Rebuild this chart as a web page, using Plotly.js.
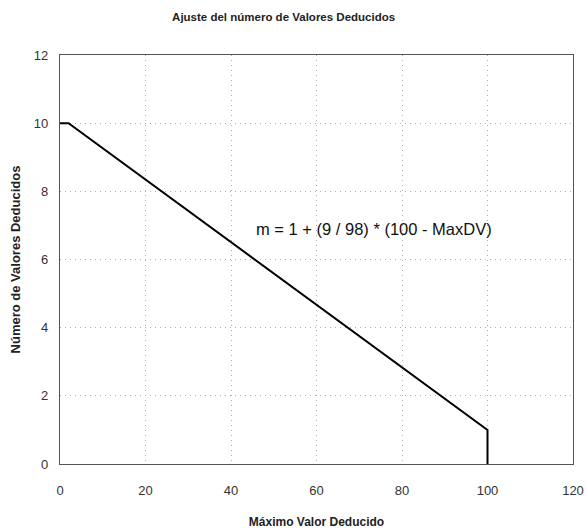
<!DOCTYPE html>
<html>
<head>
<meta charset="utf-8">
<script src="https://cdn.plot.ly/plotly-3.0.1.min.js"></script>
<style>html,body{margin:0;padding:0;background:#fff;}#chart{width:586px;height:529px;}</style>
</head>
<body>
<div id="chart"></div>
<script>
const maxDV = [0, 2, 100, 100];
const mValues = [10, 10, 1, 0];
const xTicks = [0, 20, 40, 60, 80, 100, 120];
const yTicks = [0, 2, 4, 6, 8, 10, 12];
const equationText = "m = 1 + (9 / 98) * (100 - MaxDV)";

const trace = {
  x: maxDV, y: mValues, type: 'scatter', mode: 'lines',
  line: {color: '#000', width: 2}, hoverinfo: 'skip'
};
const tickFont = {family: 'Liberation Sans, Arial, sans-serif', size: 13, color: '#333'};
const axisBase = {
  showline: true, linecolor: '#555', linewidth: 1.2, mirror: true,
  showgrid: true, gridcolor: '#b0b0b0', griddash: '1px,4px', gridwidth: 1,
  zeroline: false, ticks: '', tickfont: tickFont
};
const layout = {
  width: 586, height: 529,
  margin: {l: 60, r: 13, t: 55, b: 65},
  paper_bgcolor: '#fff', plot_bgcolor: '#fff',
  showlegend: false,
  title: {text: '<b>Ajuste del número de Valores Deducidos</b>', x: 0.484, xanchor: 'center', y: 0.968, yanchor: 'middle',
    font: {family: 'Liberation Sans, Arial, sans-serif', size: 11.5, color: '#222'}},
  xaxis: Object.assign({}, axisBase, {range: [0, 120], tickvals: xTicks, ticklabelstandoff: 14,
    title: {text: '<b>Máximo Valor Deducido</b>', standoff: 22, font: {family: 'Liberation Sans, Arial, sans-serif', size: 12, color: '#222'}}}),
  yaxis: Object.assign({}, axisBase, {range: [0, 12], tickvals: yTicks, ticklabelstandoff: 8,
    title: {text: '<b>Número de Valores Deducidos</b>', standoff: 10, font: {family: 'Liberation Sans, Arial, sans-serif', size: 13, color: '#222'}}}),
  annotations: [{x: 73.4, y: 6.9, xref: 'x', yref: 'y', text: equationText, showarrow: false,
    font: {family: 'Liberation Sans, Arial, sans-serif', size: 16.5, color: '#111'}}]
};
Plotly.newPlot('chart', [trace], layout, {displayModeBar: false, staticPlot: true});
</script>
</body>
</html>
